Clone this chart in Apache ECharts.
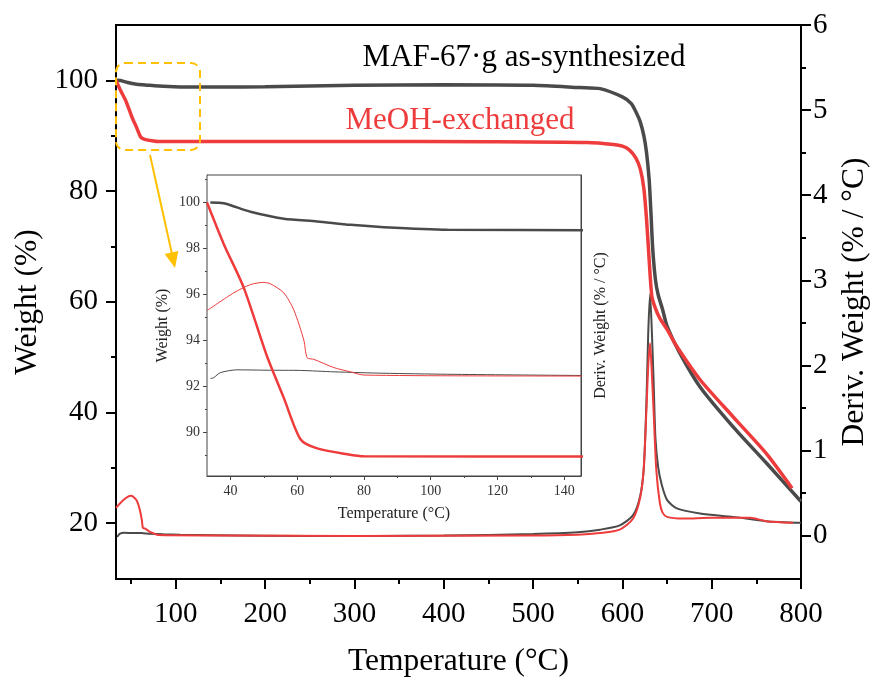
<!DOCTYPE html>
<html>
<head>
<meta charset="utf-8">
<script src="https://cdn.jsdelivr.net/npm/echarts@6/dist/echarts.min.js"></script>
<style>
  html, body { margin: 0; padding: 0; background: #fff; }
  #chart { width: 872px; height: 682px; }
</style>
</head>
<body>
<div id="chart"></div>
<script>
// TGA weight (%), as-synthesized sample
var graySynT = [34, 38, 46, 56, 66, 76, 86, 105, 150, 200, 300, 400, 500, 552, 575, 600, 610, 616, 620, 624, 627, 630, 632, 634, 637, 640, 645, 650, 664, 687, 724, 761, 800];
var graySynW = [100, 99.97, 99.6, 99.3, 99.18, 99.03, 98.93, 98.82, 98.8, 98.85, 99.1, 99.2, 99.1, 98.7, 98.5, 97.0, 95.8, 94.0, 92.5, 90.0, 87.0, 82.0, 76.0, 69.5, 64.0, 61.3, 58.6, 55.6, 50.8, 44.6, 37.4, 30.9, 23.9];
// TGA weight (%), MeOH-exchanged sample
var redMeohT = [33, 38, 44, 51, 56, 61, 66, 75, 80, 150, 300, 450, 560, 590, 600, 608, 615, 620, 624, 627, 630, 633, 637, 642, 650, 661, 687, 724, 761, 790];
var redMeohW = [100, 98.2, 96.3, 93.3, 91.5, 89.7, 89.3, 89.05, 88.96, 88.95, 88.95, 88.9, 88.75, 88.4, 88.1, 87.4, 86.0, 84.0, 80.5, 75.0, 67.5, 61.0, 58.8, 57.0, 55.0, 51.9, 45.9, 39.2, 32.6, 26.3];
// derivative weight (% / °C)
var grayDerT = [34, 35, 37, 42, 51, 61, 71, 86, 105, 145, 250, 400, 500, 550, 575, 597, 612, 620, 624, 627, 629, 631, 633, 635, 637, 640, 644, 650, 661, 687, 724, 761, 800];
var grayDerV = [-0.01, -0.006, 0.019, 0.033, 0.031, 0.03, 0.023, 0.016, 0.011, 0.005, -0.005, 0.0, 0.02, 0.04, 0.07, 0.12, 0.24, 0.47, 0.8, 1.6, 2.4, 2.84, 2.4, 1.8, 1.15, 0.81, 0.6, 0.42, 0.32, 0.26, 0.22, 0.17, 0.15];
var redDerT = [33, 41, 46, 50, 52, 56, 59, 62, 63, 65, 71, 76, 80, 145, 300, 500, 550, 575, 597, 612, 620, 624, 627, 629, 631, 633, 635, 638, 642, 645, 650, 668, 700, 743, 761, 791];
var redDerV = [0.327, 0.415, 0.456, 0.467, 0.46, 0.415, 0.33, 0.18, 0.093, 0.085, 0.044, 0.023, 0.007, 0.002, -0.004, 0.0, 0.01, 0.03, 0.07, 0.2, 0.45, 0.8, 1.5, 2.0, 2.26, 1.9, 1.45, 0.77, 0.38, 0.27, 0.22, 0.2, 0.21, 0.21, 0.17, 0.15];

// tick values
var mainXLabels = [100, 200, 300, 400, 500, 600, 700, 800];
var mainXMinor = [50, 150, 250, 350, 450, 550, 650, 750];
var mainYLabels = [20, 40, 60, 80, 100];
var mainYMinor = [30, 50, 70, 90];
var derLabels = [0, 1, 2, 3, 4, 5, 6];
var derMinor = [0.5, 1.5, 2.5, 3.5, 4.5, 5.5];
var insetXLabels = [40, 60, 80, 100, 120, 140];
var insetXMinor = [50, 70, 90, 110, 130];
var insetYLabels = [90, 92, 94, 96, 98, 100];
var insetYMinor = [89, 91, 93, 95, 97, 99, 101];

var GRAY = '#4a4a4a';
var RED = '#ee3b3b';
var ORANGE = '#ffc000';
var SERIF = "'Liberation Serif', 'Times New Roman', serif";

function zip(a, b) {
    var out = [];
    for (var i = 0; i < a.length; i++) out.push([a[i], b[i]]);
    return out;
}

// one axis that only carries the short (minor) ticks
function minorAxis(base, vals, len, color, width) {
    return Object.assign({
        type: 'value',
        splitLine: { show: false },
        axisLine: { show: false, onZero: false },
        axisLabel: { show: false },
        axisTick: { show: true, inside: false, customValues: vals, length: len, lineStyle: { color: color, width: width } }
    }, base);
}

var lineBase = { type: 'line', showSymbol: false, symbol: 'none', smooth: 0.25, clip: true };

var option = {
    animation: false,
    backgroundColor: '#fff',
    grid: [
        { left: 116, right: 71, top: 25, bottom: 103, outerBoundsMode: 'none', show: true, borderColor: '#000', borderWidth: 2, backgroundColor: 'transparent' },
        { left: 207, right: 291, top: 175, bottom: 206, outerBoundsMode: 'none', show: true, borderColor: '#444', borderWidth: 1, backgroundColor: '#fff', z: 5 }
    ],
    xAxis: [
        {
            type: 'value', gridIndex: 0, min: 33, max: 800, position: 'bottom',
            splitLine: { show: false },
            axisLine: { show: true, onZero: false, lineStyle: { color: '#000', width: 2 } },
            axisTick: { show: true, inside: false, customValues: mainXLabels, length: 10, lineStyle: { color: '#000', width: 2 } },
            axisLabel: { show: true, customValues: mainXLabels, margin: 21, color: '#000', fontSize: 29, fontFamily: SERIF },
            name: 'Temperature (°C)', nameLocation: 'middle', nameGap: 67,
            nameTextStyle: { color: '#000', fontSize: 31.5, fontFamily: SERIF }
        },
        minorAxis({ gridIndex: 0, min: 33, max: 800, position: 'bottom' }, mainXMinor, 5, '#000', 2),
        {
            type: 'value', gridIndex: 1, min: 33, max: 145, position: 'bottom',
            splitLine: { show: false },
            axisLine: { show: true, onZero: false, lineStyle: { color: '#444', width: 1 } },
            axisTick: { show: true, inside: false, customValues: insetXLabels, length: 4, lineStyle: { color: '#444', width: 1 } },
            axisLabel: { show: true, customValues: insetXLabels, margin: 8, color: '#333', fontSize: 14, fontFamily: SERIF },
            name: 'Temperature (°C)', nameLocation: 'middle', nameGap: 30,
            nameTextStyle: { color: '#222', fontSize: 16, fontFamily: SERIF }
        },
        minorAxis({ gridIndex: 1, min: 33, max: 145, position: 'bottom' }, insetXMinor, 2, '#444', 1)
    ],
    yAxis: [
        {
            type: 'value', gridIndex: 0, min: 9.9, max: 110, position: 'left',
            splitLine: { show: false },
            axisLine: { show: true, onZero: false, lineStyle: { color: '#000', width: 2 } },
            axisTick: { show: true, inside: false, customValues: mainYLabels, length: 10, lineStyle: { color: '#000', width: 2 } },
            axisLabel: { show: true, customValues: mainYLabels, margin: 18, color: '#000', fontSize: 29, fontFamily: SERIF },
            name: 'Weight (%)', nameLocation: 'middle', nameGap: 68,
            nameTextStyle: { color: '#000', fontSize: 31.5, fontFamily: SERIF }
        },
        minorAxis({ gridIndex: 0, min: 9.9, max: 110, position: 'left' }, mainYMinor, 5, '#000', 2),
        {
            type: 'value', gridIndex: 0, min: -0.51, max: 6, position: 'right',
            splitLine: { show: false },
            axisLine: { show: true, onZero: false, lineStyle: { color: '#000', width: 2 } },
            axisTick: { show: true, inside: false, customValues: derLabels, length: 10, lineStyle: { color: '#000', width: 2 } },
            axisLabel: { show: true, customValues: derLabels, margin: 12, color: '#000', fontSize: 29, fontFamily: SERIF },
            name: 'Deriv. Weight (% / °C)', nameLocation: 'middle', nameGap: 36,
            nameTextStyle: { color: '#000', fontSize: 31.5, fontFamily: SERIF }
        },
        minorAxis({ gridIndex: 0, min: -0.51, max: 6, position: 'right' }, derMinor, 5, '#000', 2),
        {
            type: 'value', gridIndex: 1, min: 88.1, max: 101.2, position: 'left',
            splitLine: { show: false },
            axisLine: { show: true, onZero: false, lineStyle: { color: '#444', width: 1 } },
            axisTick: { show: true, inside: false, customValues: insetYLabels, length: 4, lineStyle: { color: '#444', width: 1 } },
            axisLabel: { show: true, customValues: insetYLabels, margin: 7, color: '#333', fontSize: 14, fontFamily: SERIF },
            name: 'Weight (%)', nameLocation: 'middle', nameGap: 36,
            nameTextStyle: { color: '#222', fontSize: 16, fontFamily: SERIF }
        },
        minorAxis({ gridIndex: 1, min: 88.1, max: 101.2, position: 'left' }, insetYMinor, 2, '#444', 1),
        {
            type: 'value', gridIndex: 1, min: -0.494, max: 1.0, position: 'right',
            splitLine: { show: false },
            axisLine: { show: true, onZero: false, lineStyle: { color: '#444', width: 1 } },
            axisTick: { show: true, inside: true, customValues: [0, 0.5], length: 3, lineStyle: { color: '#444', width: 1 } },
            axisLabel: { show: false },
            name: 'Deriv. Weight (% / °C)', nameLocation: 'middle', nameGap: 12,
            nameTextStyle: { color: '#222', fontSize: 16, fontFamily: SERIF, verticalAlign: 'top' }
        }
    ],
    series: [
        Object.assign({}, lineBase, { name: 'as-synthesized', xAxisIndex: 0, yAxisIndex: 0, data: zip(graySynT, graySynW), lineStyle: { color: GRAY, width: 3.5 }, z: 3 }),
        Object.assign({}, lineBase, { name: 'MeOH-exchanged', xAxisIndex: 0, yAxisIndex: 0, data: zip(redMeohT, redMeohW), lineStyle: { color: RED, width: 3.5 }, z: 4 }),
        Object.assign({}, lineBase, { name: 'as-synthesized deriv', xAxisIndex: 0, yAxisIndex: 2, data: zip(grayDerT, grayDerV), lineStyle: { color: GRAY, width: 2 }, z: 3 }),
        Object.assign({}, lineBase, { name: 'MeOH deriv', xAxisIndex: 0, yAxisIndex: 2, data: zip(redDerT, redDerV), lineStyle: { color: RED, width: 2 }, z: 4 }),
        // inset: same data, zoomed on the first 145 °C
        Object.assign({}, lineBase, { xAxisIndex: 2, yAxisIndex: 4, data: zip(graySynT, graySynW), lineStyle: { color: GRAY, width: 2.5 }, z: 10 }),
        Object.assign({}, lineBase, { xAxisIndex: 2, yAxisIndex: 4, data: zip(redMeohT, redMeohW), lineStyle: { color: RED, width: 2.5 }, z: 11 }),
        Object.assign({}, lineBase, { xAxisIndex: 2, yAxisIndex: 6, data: zip(grayDerT, grayDerV), lineStyle: { color: GRAY, width: 1 }, z: 10 }),
        Object.assign({}, lineBase, { xAxisIndex: 2, yAxisIndex: 6, data: zip(redDerT, redDerV), lineStyle: { color: RED, width: 1 }, z: 11 })
    ],
    graphic: [
        {
            type: 'text', z: 20,
            style: { text: 'MAF-67·g as-synthesized', x: 524, y: 58, textAlign: 'center', textVerticalAlign: 'middle', font: '31px ' + SERIF, fill: '#000' }
        },
        {
            type: 'text', z: 20,
            style: { text: 'MeOH-exchanged', x: 460, y: 121, textAlign: 'center', textVerticalAlign: 'middle', font: '31px ' + SERIF, fill: RED }
        },
        {
            type: 'rect', z: 20,
            shape: { x: 116, y: 63, width: 84, height: 87, r: 9 },
            style: { fill: 'none', stroke: ORANGE, lineWidth: 2, lineDash: [8, 5] }
        },
        {
            type: 'line', z: 20,
            shape: { x1: 150, y1: 155, x2: 172, y2: 254 },
            style: { stroke: ORANGE, lineWidth: 2 }
        },
        {
            type: 'polygon', z: 20,
            shape: { points: [[175, 268], [164.7, 253.9], [178.3, 250.9]] },
            style: { fill: ORANGE }
        }
    ]
};

var myChart = echarts.init(document.getElementById('chart'));
myChart.setOption(option);
</script>
</body>
</html>
